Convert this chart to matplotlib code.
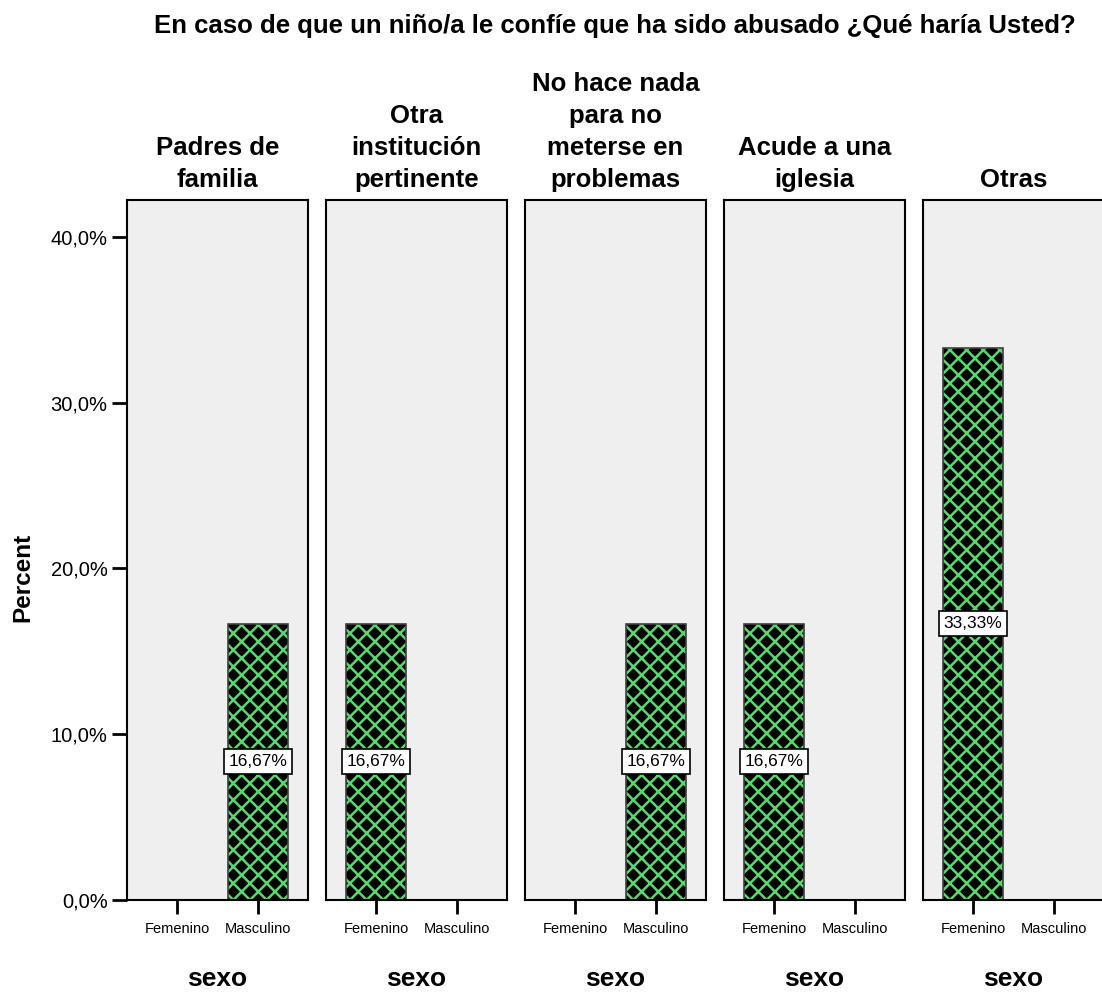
import matplotlib
matplotlib.use('Agg')
import matplotlib.pyplot as plt

plt.rcParams['font.family'] = ['Liberation Sans', 'DejaVu Sans']
plt.rcParams['hatch.linewidth'] = 1.8

# data
panels = ['Padres de\nfamilia', 'Otra\ninstitución\npertinente',
          'No hace nada\npara no\nmeterse en\nproblemas', 'Acude a una\niglesia', 'Otras']
sexes = ['Femenino', 'Masculino']
values = [[0, 16.67], [16.67, 0], [0, 16.67], [16.67, 0], [33.33, 0]]
yticks = [0, 10, 20, 30, 40]
ytick_labels = ['0,0%', '10,0%', '20,0%', '30,0%', '40,0%']

W, H = 1102, 993
fig = plt.figure(figsize=(W / 100, H / 100), dpi=100)

# panels in pixel coordinates
left0, step, pw = 127, 199, 181
top, bottom = 200, 900
green = '#5cd670'

for i, (title, vals) in enumerate(zip(panels, values)):
    ax = fig.add_axes([(left0 + i * step) / W, (H - bottom) / H, pw / W, (bottom - top) / H])
    ax.set_facecolor('#efefef')
    x = range(len(sexes))
    for xi, v in zip(x, vals):
        if v <= 0:
            continue
        ax.bar(xi, v, width=0.75, color='black', edgecolor=green, hatch='xx', linewidth=0)
        ax.bar(xi, v, width=0.75, fill=False, edgecolor='#404040', linewidth=1.2)
        ax.text(xi, v / 2, f'{v:.2f}'.replace('.', ',') + '%', ha='center', va='center',
                fontsize=12.5, bbox=dict(boxstyle='square,pad=0.28', fc='white', ec='black', lw=1.2))
    ax.set_xlim(-0.617, 1.617)
    ax.set_ylim(0, 42.23)
    ax.set_xticks(list(x))
    ax.set_xticklabels(sexes, fontsize=10.5)
    ax.tick_params(axis='x', length=10, width=2, pad=6)
    for s in ax.spines.values():
        s.set_linewidth(1.5)
    if i == 0:
        ax.set_yticks(yticks)
        ax.set_yticklabels(ytick_labels, fontsize=14.5)
        ax.tick_params(axis='y', length=11, width=2, pad=3)
    else:
        ax.set_yticks([])
    ax.text(0.5, 1.012, title, transform=ax.transAxes, ha='center', va='bottom',
            fontsize=18.5, fontweight='bold', linespacing=1.42)
    ax.text(0.5, -0.113, 'sexo', transform=ax.transAxes, ha='center', va='center',
            fontsize=19, fontweight='bold')

fig.text(615 / W, 1 - 26 / H, 'En caso de que un niño/a le confíe que ha sido abusado ¿Qué haría Usted?',
         ha='center', va='center', fontsize=18.5, fontweight='bold')
fig.text(23 / W, 1 - 577 / H, 'Percent', rotation=90, ha='center', va='center',
         fontsize=17.5, fontweight='bold')

fig.savefig('out.png', dpi=100)
